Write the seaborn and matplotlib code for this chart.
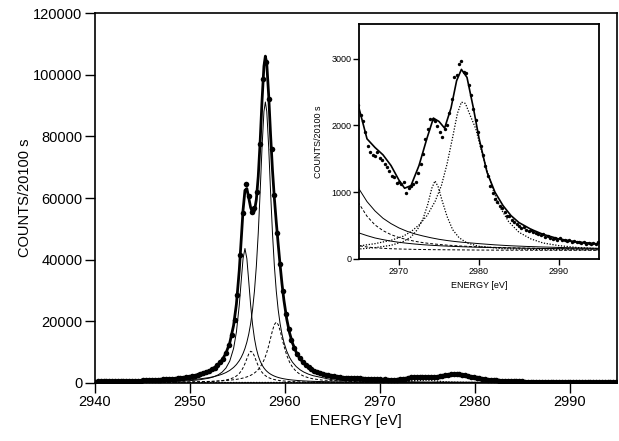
import matplotlib
matplotlib.use("Agg")
import matplotlib.pyplot as plt
import seaborn as sns

# ------------ data ------------
# measured spectrum (dots)
energy_pts = [
    2940.0, 2940.3, 2940.6, 2940.9, 2941.2, 2941.5, 2941.8, 2942.1, 2942.4, 2942.7,
    2943.0, 2943.3, 2943.6, 2943.9, 2944.2, 2944.5, 2944.8, 2945.1, 2945.4, 2945.7,
    2946.0, 2946.3, 2946.6, 2946.9, 2947.2, 2947.5, 2947.8, 2948.1, 2948.4, 2948.7,
    2949.0, 2949.3, 2949.6, 2949.9, 2950.2, 2950.5, 2950.8, 2951.1, 2951.4, 2951.7,
    2952.0, 2952.3, 2952.6, 2952.9, 2953.2, 2953.5, 2953.8, 2954.1, 2954.4, 2954.7,
    2955.0, 2955.3, 2955.6, 2955.9, 2956.2, 2956.5, 2956.8, 2957.1, 2957.4, 2957.7,
    2958.0, 2958.3, 2958.6, 2958.9, 2959.2, 2959.5, 2959.8, 2960.1, 2960.4, 2960.7,
    2961.0, 2961.3, 2961.6, 2961.9, 2962.2, 2962.5, 2962.8, 2963.1, 2963.4, 2963.7,
    2964.0, 2964.3, 2964.6, 2964.9, 2965.2, 2965.5, 2965.8, 2966.1, 2966.4, 2966.7,
    2967.0, 2967.3, 2967.6, 2967.9, 2968.2, 2968.5, 2968.8, 2969.1, 2969.4, 2969.7,
    2970.0, 2970.3, 2970.6, 2970.9, 2971.2, 2971.5, 2971.8, 2972.1, 2972.4, 2972.7,
    2973.0, 2973.3, 2973.6, 2973.9, 2974.2, 2974.5, 2974.8, 2975.1, 2975.4, 2975.7,
    2976.0, 2976.3, 2976.6, 2976.9, 2977.2, 2977.5, 2977.8, 2978.1, 2978.4, 2978.7,
    2979.0, 2979.3, 2979.6, 2979.9, 2980.2, 2980.5, 2980.8, 2981.1, 2981.4, 2981.7,
    2982.0, 2982.3, 2982.6, 2982.9, 2983.2, 2983.5, 2983.8, 2984.1, 2984.4, 2984.7,
    2985.0, 2985.3, 2985.6, 2985.9, 2986.2, 2986.5, 2986.8, 2987.1, 2987.4, 2987.7,
    2988.0, 2988.3, 2988.6, 2988.9, 2989.2, 2989.5, 2989.8, 2990.1, 2990.4, 2990.7,
    2991.0, 2991.3, 2991.6, 2991.9, 2992.2, 2992.5, 2992.8, 2993.1, 2993.4, 2993.7,
    2994.0, 2994.3, 2994.6, 2994.9,
]
counts_pts = [
    470, 530, 490, 540, 520, 575, 560, 610, 590, 640,
    620, 690, 670, 740, 720, 800, 770, 860, 850, 920,
    960, 990, 1060, 1090, 1150, 1190, 1300, 1340, 1430, 1520,
    1630, 1760, 1880, 2040, 2230, 2400, 2620, 2870, 3150, 3480,
    3950, 4420, 4950, 5750, 6800, 7900, 9800, 12200, 15600, 20400,
    28500, 41500, 55000, 64500, 60500, 55600, 56800, 62000, 77500, 98500,
    104000, 92000, 76000, 61000, 48500, 38700, 29800, 22500, 17600, 14000,
    11300, 9300, 7950, 6700, 5900, 5150, 4500, 4050, 3650, 3300,
    2950, 2700, 2480, 2300, 2150, 2060, 1900, 1700, 1600, 1560,
    1550, 1600, 1510, 1490, 1430, 1380, 1320, 1250, 1230, 1140,
    1150, 1130, 1150, 990, 1060, 1090, 1120, 1150, 1290, 1420,
    1580, 1800, 1950, 2090, 2100, 2060, 1990, 1900, 1830, 1940,
    2000, 2180, 2400, 2730, 2750, 2920, 2960, 2800, 2780, 2600,
    2450, 2250, 2080, 1900, 1700, 1560, 1400, 1250, 1100, 990,
    900, 860, 790, 760, 700, 650, 640, 580, 560, 520,
    500, 470, 480, 430, 420, 440, 400, 390, 370, 360,
    380, 330, 340, 310, 300, 320, 290, 310, 280, 290,
    270, 280, 260, 270, 250, 260, 240, 250, 230, 240,
    220, 240, 230, 250,
]

# total fit (heavy solid line)
fit_energy = [
    2940, 2942, 2944, 2946, 2948, 2949, 2950, 2951, 2952, 2952.5,
    2953, 2953.4, 2953.8, 2954.2, 2954.6, 2954.9, 2955.2, 2955.4, 2955.6, 2955.8,
    2956.0, 2956.2, 2956.4, 2956.6, 2956.8, 2957.0, 2957.2, 2957.4, 2957.6, 2957.8,
    2957.95, 2958.1, 2958.3, 2958.5, 2958.7, 2958.9, 2959.1, 2959.3, 2959.5, 2959.7,
    2959.9, 2960.2, 2960.5, 2960.8, 2961.2, 2961.6, 2962, 2962.5, 2963, 2964,
    2965, 2966, 2967, 2968, 2969, 2970, 2970.7, 2971.5, 2972.5, 2973.5,
    2974.3, 2975, 2975.7, 2976.5, 2977.2, 2977.8, 2978.5, 2979.3, 2980, 2981,
    2982, 2983, 2984, 2985, 2986.5, 2988, 2990, 2992, 2994.9,
]
fit_counts = [
    485, 590, 730, 950, 1335, 1640, 2085, 2765, 3905, 4790,
    6065, 7535, 9685, 13030, 18640, 25600, 36500, 46170, 56080, 62500,
    63065, 60040, 56885, 55215, 55800, 59500, 66960, 78200, 91600, 102740,
    106010, 103480, 93250, 80440, 69020, 59840, 52150, 45060, 38350, 32225,
    26960, 20745, 16250, 13000, 9970, 7890, 6405, 5080, 4140, 2925,
    2260, 1800, 1670, 1560, 1400, 1180, 1060, 1100, 1400, 1810,
    2110, 2060, 1960, 2260, 2670, 2840, 2720, 2260, 1810, 1300,
    1000, 800, 650, 545, 445, 370, 300, 260, 225,
]

# fitted components of the main line
comp_energy = [
    2940, 2942, 2944, 2946, 2948, 2949, 2950, 2951, 2952, 2952.5,
    2953, 2953.4, 2953.8, 2954.2, 2954.6, 2954.9, 2955.2, 2955.4, 2955.6, 2955.8,
    2956.0, 2956.2, 2956.4, 2956.6, 2956.8, 2957.0, 2957.2, 2957.4, 2957.6, 2957.8,
    2957.95, 2958.1, 2958.3, 2958.5, 2958.7, 2958.9, 2959.1, 2959.3, 2959.5, 2959.7,
    2959.9, 2960.2, 2960.5, 2960.8, 2961.2, 2961.6, 2962, 2962.5, 2963, 2964,
    2965, 2966, 2967, 2968, 2969, 2970, 2971, 2972, 2973, 2974,
    2975, 2976, 2977, 2978, 2979, 2980, 2982, 2984, 2986, 2988,
    2990, 2992, 2995,
]
peak_a = [  # solid, low-energy line
    215, 242, 283, 351, 478, 586, 755, 1036, 1558, 2003,
    2689, 3540, 4877, 7119, 11174, 16526, 25206, 32922, 40347, 43630,
    40347, 32922, 25206, 18993, 14435, 11174, 8830, 7119, 5844, 4877,
    4299, 3818, 3292, 2870, 2525, 2240, 2003, 1803, 1633, 1488,
    1362, 1204, 1074, 966, 849, 755, 678, 600, 537, 445,
    390, 350, 315, 290, 268, 250, 236, 224, 214, 206,
    199, 193, 188, 183, 179, 176, 170, 165, 161, 158,
    155, 153, 150,
]
peak_b = [  # solid, main line
    310, 358, 429, 536, 715, 851, 1042, 1320, 1746, 2049,
    2447, 2859, 3391, 4092, 5041, 5989, 7232, 8288, 9581, 11198,
    13240, 15860, 19273, 23781, 29807, 37888, 48564, 61925, 76513, 88041,
    91130, 88041, 76513, 61925, 48564, 37888, 29807, 23781, 19273, 15860,
    13240, 10344, 8288, 6776, 5330, 4302, 3548, 2859, 2358, 1695,
    1050, 860, 720, 610, 530, 465, 415, 375, 345, 318,
    295, 277, 262, 250, 240, 230, 212, 198, 188, 180,
    173, 167, 160,
]
peak_c = [  # dashed, small
    154, 161, 172, 189, 221, 246, 285, 345, 449, 532,
    651, 787, 982, 1275, 1738, 2277, 3097, 3876, 4921, 6274,
    7878, 9423, 10290, 9984, 8691, 7056, 5559, 4362, 3456, 2781,
    2389, 2071, 1738, 1478, 1275, 1113, 982, 875, 787, 713,
    651, 574, 513, 464, 411, 370, 338, 305, 280, 243,
    200, 180, 168, 160, 154, 150, 147, 144, 142, 140,
    139, 138, 137, 136, 135, 134, 133, 132, 132, 131,
    131, 131, 130,
]
peak_d = [  # dashed, high-energy side
    184, 197, 216, 244, 288, 320, 364, 424, 511, 570,
    643, 715, 804, 914, 1052, 1182, 1339, 1464, 1609, 1778,
    1977, 2213, 2494, 2833, 3246, 3753, 4382, 5169, 6161, 7416,
    8569, 9930, 12081, 14542, 17027, 18976, 19730, 18976, 17027, 14542,
    12081, 8999, 6752, 5169, 3753, 2833, 2213, 1691, 1339, 914,
    830, 640, 510, 425, 365, 322, 290, 265, 245, 230,
    218, 208, 200, 193, 187, 182, 174, 167, 162, 158,
    154, 151, 148,
]

# satellite lines (dotted)
sat1_energy = [
    2940, 2955, 2962, 2965, 2967, 2969, 2970.5, 2971.5, 2972.3, 2973,
    2973.6, 2974.1, 2974.5, 2974.9, 2975.4, 2976, 2976.7, 2977.5, 2978.5, 2980,
    2983, 2987, 2995,
]
sat1_counts = [
    132, 135, 145, 150, 170, 205, 260, 330, 440, 600,
    820, 1060, 1170, 1080, 870, 640, 440, 320, 240, 190,
    155, 142, 135,
]
sat2_energy = [
    2940, 2955, 2962, 2965, 2967, 2969, 2970.5, 2971.5, 2972.5, 2973.5,
    2974.5, 2975.3, 2976, 2976.7, 2977.3, 2977.8, 2978.3, 2978.9, 2979.6, 2980.3,
    2981, 2981.8, 2982.7, 2983.7, 2985, 2986.5, 2988, 2990, 2992.5, 2995,
]
sat2_counts = [
    135, 145, 170, 195, 230, 280, 340, 410, 510, 650,
    860, 1100, 1420, 1820, 2180, 2350, 2330, 2150, 1950, 1620,
    1330, 1020, 760, 560, 400, 300, 240, 200, 170, 155,
]

main_xticks = [2940, 2950, 2960, 2970, 2980, 2990]
main_yticks = [0, 20000, 40000, 60000, 80000, 100000, 120000]
inset_xticks = [2970, 2980, 2990]
inset_yticks = [0, 1000, 2000, 3000]


def draw_spectrum(ax, lw_fit, lw_comp, dot_size):
    for ys in (peak_a, peak_b):
        sns.lineplot(x=comp_energy, y=ys, ax=ax, color="black", lw=lw_comp)
    for ys in (peak_c, peak_d):
        sns.lineplot(x=comp_energy, y=ys, ax=ax, color="black", lw=lw_comp,
                     linestyle=(0, (3, 2)))
    sns.lineplot(x=sat1_energy, y=sat1_counts, ax=ax, color="black", lw=0.9,
                 linestyle=(0, (1, 1.3)))
    sns.lineplot(x=sat2_energy, y=sat2_counts, ax=ax, color="black", lw=0.9,
                 linestyle=(0, (1, 1.3)))
    sns.lineplot(x=fit_energy, y=fit_counts, ax=ax, color="black", lw=lw_fit)
    sns.scatterplot(x=energy_pts, y=counts_pts, ax=ax, color="black",
                    s=dot_size, linewidth=0, zorder=5)


sns.set_style("ticks")
plt.rcParams["font.family"] = ["Liberation Sans", "DejaVu Sans"]
plt.rcParams.update({
    "text.color": "black",
    "axes.labelcolor": "black",
    "axes.edgecolor": "black",
    "xtick.color": "black",
    "ytick.color": "black",
})

fig = plt.figure(figsize=(6.19, 4.41), dpi=100)

# ------------ main panel ------------
ax = fig.add_axes([95 / 619, 58 / 441, 522 / 619, 370 / 441])
draw_spectrum(ax, lw_fit=2.0, lw_comp=0.7, dot_size=16)
ax.set_xlim(2940, 2995)
ax.set_ylim(0, 120000)
ax.set_xticks(main_xticks)
ax.set_yticks(main_yticks)
ax.set_xlabel("ENERGY [eV]", fontsize=10.5, labelpad=3)
ax.set_ylabel("COUNTS/20100 s", fontsize=10.5, labelpad=1)
ax.tick_params(direction="out", length=7, width=1, labelsize=10.5, pad=2)
for side in ax.spines.values():
    side.set_visible(True)
    side.set_linewidth(1.2)

# ------------ inset ------------
axi = fig.add_axes([359 / 619, 182 / 441, 240 / 619, 235 / 441])
axi.set_facecolor("white")
draw_spectrum(axi, lw_fit=1.2, lw_comp=0.7, dot_size=6)
axi.set_xlim(2965, 2995)
axi.set_ylim(0, 3520)
axi.set_xticks(inset_xticks)
axi.set_yticks(inset_yticks)
axi.set_xlabel("ENERGY [eV]", fontsize=6.5, labelpad=4)
axi.set_ylabel("COUNTS/20100 s", fontsize=6.5, labelpad=6)
axi.tick_params(direction="out", length=4, width=1, labelsize=6.5, pad=1.5)
for side in axi.spines.values():
    side.set_visible(True)
    side.set_linewidth(1.3)

fig.savefig("out.png", dpi=100)
